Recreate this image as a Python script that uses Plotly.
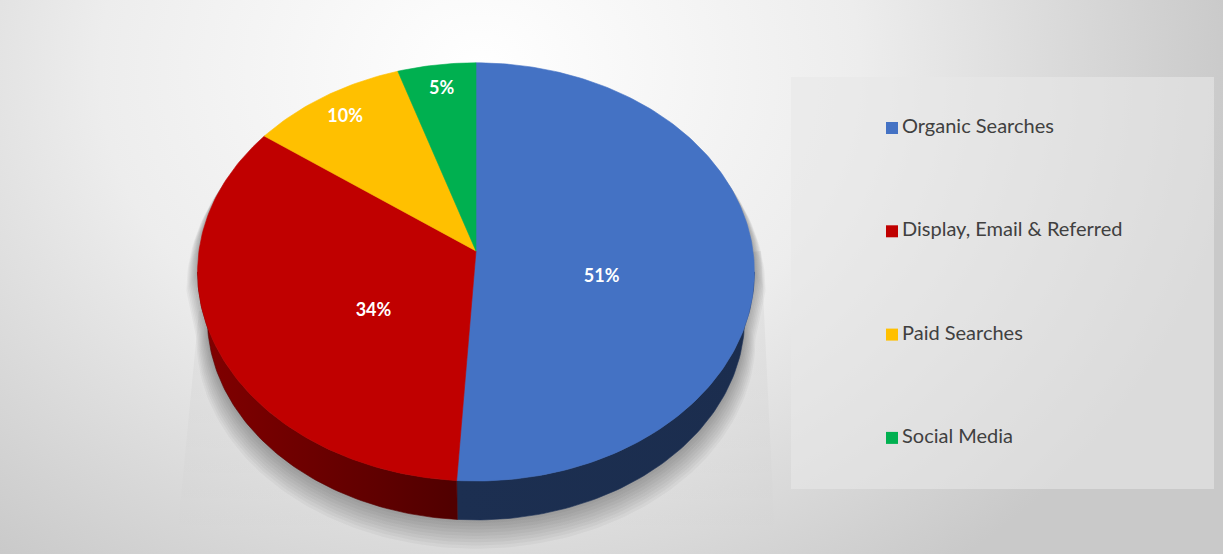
import numpy as np
import plotly.graph_objects as go

# data
categories = ["Organic Searches", "Display, Email & Referred", "Paid Searches", "Social Media"]
shares = [51, 34, 10, 5]
colors = ["#4472C4", "#C00000", "#FFC000", "#00B050"]

# page / pie geometry (pixels, y down)
W, H = 1223, 554
CX, AY = 476, 251          # apex of the top face
RX, RY = 277, 207          # top face radii
K = 0.10                   # perspective strength
DEPTH = 47                 # thickness of the pie
SB = 0.965                 # bottom face shrink

LEG_X, LEG_Y0, LEG_DY = 892, 128, 103.3


def proj(theta, r=1.0, bottom=False):
    u = r * np.sin(theta)
    v = r * np.cos(theta)
    s = 1.0 / (1.0 + K * v)
    if bottom:
        return CX + RX * SB * u * s, AY + DEPTH - RY * SB * v * s
    return CX + RX * u * s, AY - RY * v * s


def shade(hexcol, f):
    h = hexcol.lstrip("#")
    r, g, b = (int(h[i:i + 2], 16) for i in (0, 2, 4))
    return "rgb(%d,%d,%d)" % (r * f, g * f, b * f)


def wall_factor(theta):
    return 0.40 + 0.28 * max(0.0, -np.sin(theta))


def poly(x, y, **kw):
    return go.Scatter(x=x, y=y, mode="lines", fill="toself",
                      hoverinfo="skip", showlegend=False, **kw)


total = float(sum(shares))
fracs = [s / total for s in shares]
ends = np.cumsum(fracs) * 2 * np.pi
starts = ends - np.array(fracs) * 2 * np.pi

th_r = np.arccos(-K)           # right silhouette
th_l = 2 * np.pi - th_r        # left silhouette

fig = go.Figure()

# background
fig.add_trace(poly(
    [-280, 1240, 1240, -280, -280], [-560, -560, 700, 700, -560],
    line=dict(width=0),
    fillgradient=dict(type="radial", colorscale=[[0, "#ffffff"], [0.5, "#ededed"], [1, "#c9c9c9"]])))

# soft floor shading under the pie
bot_y = AY + DEPTH + RY * SB / (1 - K) + 18
fig.add_trace(poly(
    [CX - RX, CX + RX + 8, CX + RX + 22, CX - RX - 22, CX - RX],
    [AY + 60, AY, bot_y, bot_y, AY + 60],
    line=dict(width=0),
    fillgradient=dict(type="vertical", colorscale=[[0, "rgba(0,0,0,0.0)"], [1, "rgba(0,0,0,0.05)"]])))

# shadow of the pie
t_back = np.linspace(th_l, 2 * np.pi + th_r, 120)
t_front = np.linspace(th_r, th_l, 120)
bx, by = proj(t_back)
fx, fy = proj(t_front, bottom=True)
sil_x = np.concatenate([bx, fx])
sil_y = np.concatenate([by, fy])
for i in range(9, 0, -1):
    sc = 1 + 0.0045 * i
    fig.add_trace(poly(
        CX + (sil_x - CX) * sc, AY + DEPTH + (sil_y - AY - DEPTH) * sc + 2.2 * i,
        line=dict(width=0), fillcolor="rgba(0,0,0,0.036)"))

# side walls
for a, b, col in zip(starts, ends, colors):
    a0, a1 = max(a, th_r), min(b, th_l)
    if a1 <= a0:
        continue
    t = np.linspace(a0, a1, 80)
    tx, ty = proj(t)
    wx, wy = proj(t[::-1], bottom=True)
    c0, c1 = shade(col, wall_factor(a0)), shade(col, wall_factor(a1))
    left, right = (c1, c0) if tx[-1] < tx[0] else (c0, c1)
    fig.add_trace(poly(
        np.concatenate([tx, wx, tx[:1]]), np.concatenate([ty, wy, ty[:1]]),
        line=dict(width=0.6, color=shade(col, 0.45)),
        fillgradient=dict(type="horizontal", colorscale=[[0, left], [1, right]])))

# top faces
for a, b, col in zip(starts, ends, colors):
    t = np.linspace(a, b, max(6, int((b - a) / (2 * np.pi) * 360)))
    px, py = proj(t)
    fig.add_trace(poly(
        np.concatenate([[CX], px, [CX]]), np.concatenate([[AY], py, [AY]]),
        line=dict(width=0.6, color=col), fillcolor=col))

# percentage labels
lab_x, lab_y, lab_t = [], [], []
for a, b, f in zip(starts, ends, fracs):
    mid = (a + b) / 2
    big = f >= 0.2
    x, y = proj(mid, 0.3 + 0.3 * f if big else 0.86)
    lab_x.append(x)
    lab_y.append(y + (24 if big else 1))
    lab_t.append("%d%%" % round(f * 100))
fig.add_trace(go.Scatter(
    x=lab_x, y=lab_y, text=lab_t, mode="text",
    textfont=dict(family="Lato", size=18, color="white", weight="bold"),
    hoverinfo="skip", showlegend=False))

# legend box
fig.add_trace(poly([791, 1214, 1214, 791, 791], [77, 77, 489, 489, 77],
                   line=dict(width=0), fillcolor="rgba(232,232,232,0.6)"))

leg_y = [LEG_Y0 + i * LEG_DY for i in range(len(categories))]
fig.add_trace(go.Scatter(
    x=[LEG_X] * len(categories), y=leg_y, mode="markers",
    marker=dict(symbol="square", size=12, color=colors, line=dict(width=0)),
    hoverinfo="skip", showlegend=False))
fig.add_trace(go.Scatter(
    x=[LEG_X + 10] * len(categories), y=leg_y, text=categories, mode="text",
    textposition="middle right",
    textfont=dict(family="Lato", size=20, color="#404040"),
    hoverinfo="skip", showlegend=False))

fig.update_layout(
    width=W, height=H,
    margin=dict(l=0, r=0, t=0, b=0),
    paper_bgcolor="#e6e6e6", plot_bgcolor="rgba(0,0,0,0)",
    xaxis=dict(range=[0, W], visible=False, fixedrange=True),
    yaxis=dict(range=[H, 0], visible=False, fixedrange=True),
    showlegend=False,
)

fig.write_html("out.html", post_script="document.body.style.margin='0';",
               config={"displayModeBar": False})
